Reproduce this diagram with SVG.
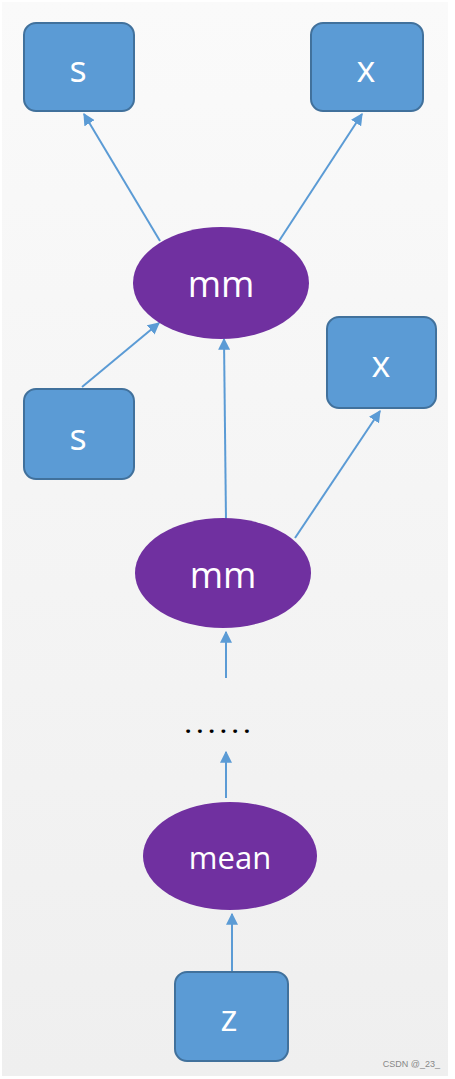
<svg xmlns="http://www.w3.org/2000/svg" width="455" height="1079" viewBox="0 0 455 1079">
<defs>
<linearGradient id="bg" x1="0" y1="0" x2="0" y2="1">
<stop offset="0" stop-color="#fafafa"/>
<stop offset="1" stop-color="#efefef"/>
</linearGradient>
<marker id="ah" viewBox="0 0 10 10" refX="9" refY="5" markerWidth="6" markerHeight="6" orient="auto" markerUnits="strokeWidth">
<path d="M0,0 L10,5 L0,10 z" fill="#5b9bd5"/>
</marker>
<style>
.box{fill:#5b9bd5;stroke:#41719c;stroke-width:2}
.ell{fill:#7030a0}
.lbl{font-family:"Open Sans","DejaVu Sans",sans-serif;fill:#ffffff;text-anchor:middle}
.edge{stroke:#5b9bd5;stroke-width:2;fill:none;marker-end:url(#ah)}
</style>
</defs>
<rect x="0" y="0" width="455" height="1079" fill="#ffffff"/>
<rect x="2" y="2" width="446" height="1074" fill="url(#bg)"/>
<g id="connectors">
<line class="edge" x1="160" y1="241" x2="84" y2="114"/>
<line class="edge" x1="279" y1="241" x2="362" y2="114"/>
<line class="edge" x1="82" y1="387" x2="159" y2="323"/>
<line class="edge" x1="226" y1="521" x2="224" y2="339"/>
<line class="edge" x1="295" y1="538" x2="380" y2="411"/>
<line class="edge" x1="226" y1="678" x2="226" y2="632"/>
<line class="edge" x1="226" y1="798" x2="226" y2="752"/>
<line class="edge" x1="232" y1="972" x2="232" y2="914"/>
</g>
<g id="s1"><rect class="box" x="24" y="23" width="110" height="88" rx="12"/><text class="lbl" x="78" y="82" font-size="36">s</text></g>
<g id="x1"><rect class="box" x="311" y="23" width="112" height="88" rx="12"/><text class="lbl" x="366" y="82" font-size="36">x</text></g>
<g id="mm1"><ellipse class="ell" cx="221" cy="283" rx="88" ry="56"/><text class="lbl" x="221" y="297" font-size="36">mm</text></g>
<g id="s2"><rect class="box" x="24" y="389" width="110" height="90" rx="12"/><text class="lbl" x="78" y="450" font-size="36">s</text></g>
<g id="x2"><rect class="box" x="327" y="317" width="109" height="91" rx="12"/><text class="lbl" x="381" y="377" font-size="36">x</text></g>
<g id="mm2"><ellipse class="ell" cx="223" cy="573" rx="88" ry="55"/><text class="lbl" x="223" y="588" font-size="36">mm</text></g>
<g id="dots"><text x="185" y="733" font-family="'Open Sans','DejaVu Sans',sans-serif" font-size="22" font-weight="bold" fill="#000000" letter-spacing="5.5">......</text></g>
<g id="mean"><ellipse class="ell" cx="230" cy="856" rx="87" ry="54"/><text class="lbl" x="230" y="869" font-size="31">mean</text></g>
<g id="z"><rect class="box" x="175" y="972" width="113" height="89" rx="12"/><text class="lbl" x="229" y="1031" font-size="36">z</text></g>
<text x="440" y="1067" font-family="'Liberation Sans',Arial,sans-serif" font-size="9" fill="#888888" text-anchor="end">CSDN @_23_</text>
</svg>
